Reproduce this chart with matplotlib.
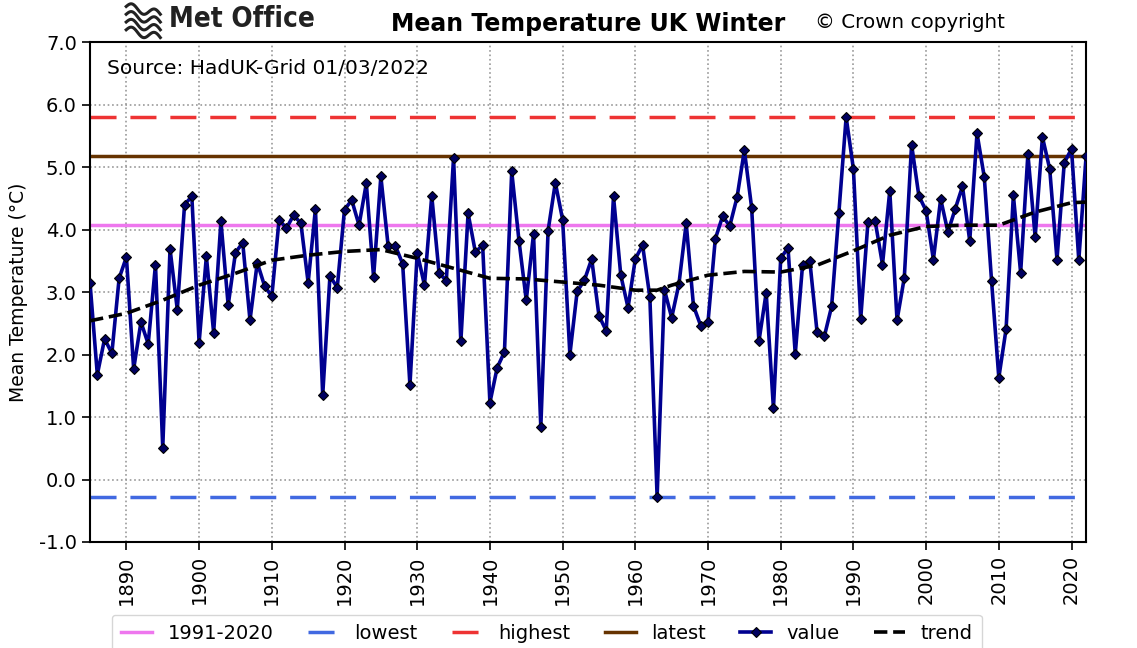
import numpy as np
import matplotlib
matplotlib.use("Agg")
import matplotlib.pyplot as plt
from matplotlib.lines import Line2D

# ---------------- data ----------------
start_year = 1885
values = [
    3.14, 1.68, 2.25, 2.02, 3.22, 3.56, 1.77, 2.52, 2.17, 3.44,   # 1885-1894
    0.51, 3.69, 2.72, 4.40, 4.53, 2.19, 3.57, 2.35, 4.13, 2.79,   # 1895-1904
    3.63, 3.79, 2.55, 3.47, 3.10, 2.93, 4.16, 4.02, 4.23, 4.10,   # 1905-1914
    3.15, 4.33, 1.35, 3.26, 3.07, 4.32, 4.47, 4.07, 4.74, 3.24,   # 1915-1924
    4.85, 3.74, 3.74, 3.45, 1.51, 3.63, 3.11, 4.54, 3.31, 3.18,   # 1925-1934
    5.15, 2.21, 4.26, 3.64, 3.75, 1.23, 1.79, 2.04, 4.93, 3.82,   # 1935-1944
    2.87, 3.93, 0.84, 3.98, 4.75, 4.16, 2.00, 3.01, 3.19, 3.53,   # 1945-1954
    2.62, 2.38, 4.53, 3.27, 2.75, 3.53, 3.75, 2.92, -0.28, 3.04,  # 1955-1964
    2.59, 3.13, 4.10, 2.78, 2.46, 2.52, 3.85, 4.21, 4.06, 4.52,   # 1965-1974
    5.27, 4.35, 2.21, 2.99, 1.14, 3.54, 3.71, 2.01, 3.43, 3.50,   # 1975-1984
    2.36, 2.29, 2.77, 4.27, 5.80, 4.97, 2.57, 4.12, 4.13, 3.44,   # 1985-1994
    4.62, 2.55, 3.23, 5.36, 4.54, 4.30, 3.52, 4.49, 3.96, 4.33,   # 1995-2004
    4.69, 3.82, 5.54, 4.84, 3.18, 1.63, 2.41, 4.55, 3.31, 5.21,   # 2005-2014
    3.88, 5.48, 4.97, 3.52, 5.07, 5.29, 3.51, 5.17,               # 2015-2022
]
years = np.arange(start_year, start_year + len(values))

trend_years = [1885, 1890, 1895, 1900, 1905, 1910, 1915, 1920, 1925, 1930,
               1935, 1940, 1945, 1950, 1955, 1960, 1963, 1965, 1970, 1975,
               1980, 1985, 1990, 1995, 2000, 2005, 2010, 2015, 2020, 2022]
trend_vals = [2.54, 2.66, 2.87, 3.11, 3.30, 3.51, 3.59, 3.65, 3.68, 3.54,
              3.38, 3.22, 3.21, 3.16, 3.11, 3.03, 3.03, 3.11, 3.27, 3.33,
              3.32, 3.43, 3.66, 3.91, 4.05, 4.07, 4.07, 4.28, 4.43, 4.44]

avg_1991_2020 = 4.07
lowest = -0.28
highest = 5.80
latest = 5.17

xticks = list(range(1890, 2021, 10))
yticks = [-1.0, 0.0, 1.0, 2.0, 3.0, 4.0, 5.0, 6.0, 7.0]

# ---------------- figure ----------------
plt.rcParams['font.family'] = ['DejaVu Sans']
fig = plt.figure(figsize=(11.37, 6.48), dpi=100)
ax = fig.add_axes([0.0792, 0.1636, 0.8760, 0.7714])

ax.axhline(avg_1991_2020, color='#EE77EE', lw=2.5, label='1991-2020', zorder=2)
ax.axhline(lowest, color='#4169E1', lw=2.5, dashes=(7.5, 4), label='lowest', zorder=2)
ax.axhline(highest, color='#EE3333', lw=2.5, dashes=(7.5, 4), label='highest', zorder=2)
ax.axhline(latest, color='#663300', lw=2.5, label='latest', zorder=2)
ax.plot(years, values, color='#000090', lw=2.6, marker='D', ms=5,
        mfc='#000060', mec='black', mew=0.8, label='value', zorder=4)
ax.plot(trend_years, trend_vals, color='black', lw=2.6, ls='--',
        label='trend', zorder=5)

ax.set_xlim(1885, 2022)
ax.set_ylim(-1.0, 7.0)
ax.set_xticks(xticks)
ax.set_xticklabels([str(x) for x in xticks], rotation=90, fontsize=14)
ax.set_yticks(yticks)
ax.set_yticklabels(['%.1f' % y for y in yticks], fontsize=14)
ax.grid(True, color='#999999', ls=':', lw=1.2)
ax.set_axisbelow(True)
for s in ax.spines.values():
    s.set_linewidth(1.5)
ax.tick_params(direction='out', length=6, width=1.2)
ax.set_ylabel('Mean Temperature (\u00b0C)', fontsize=13.5, labelpad=8)

ax.text(0.017, 0.947, 'Source: HadUK-Grid 01/03/2022', transform=ax.transAxes,
        fontsize=14.5, va='center', ha='left')

# header
fig.text(0.517, 0.963, 'Mean Temperature UK Winter', fontsize=17,
         fontweight='bold', ha='center', va='center')
fig.text(0.717, 0.965, '\u00a9 Crown copyright', fontsize=14.3, ha='left', va='center')
fig.text(0.149, 0.970, 'Met Office', fontsize=20, fontweight='bold',
         ha='left', va='center', color='#222222', fontstretch='condensed')
# simple wavy logo
t = np.linspace(0, 1, 40)
for k in range(4):
    xs = 0.111 + 0.030 * t
    ys = 0.990 - k * 0.012 + 0.006 * np.sin(2 * np.pi * t * 1.5) - 0.012 * t
    fig.add_artist(Line2D(xs, ys, color='#222222', lw=2.2, transform=fig.transFigure))

handles, labels = ax.get_legend_handles_labels()
leg = fig.legend(handles=handles, labels=labels,
                 loc='center', bbox_to_anchor=(0.481, 0.022), ncol=6,
                 fontsize=14, frameon=True, fancybox=True, handlelength=1.6,
                 columnspacing=1.75, borderpad=0.5)
leg.get_frame().set_edgecolor('#cccccc')

fig.savefig('out.png', dpi=100)
